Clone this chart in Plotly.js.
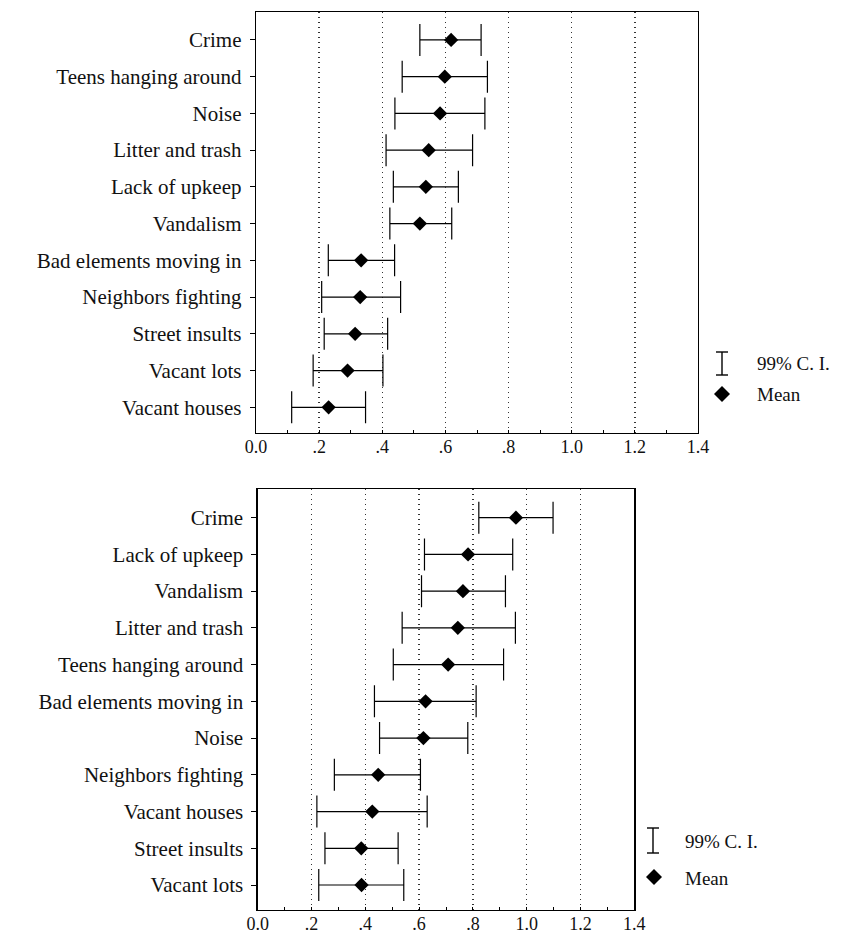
<!DOCTYPE html>
<html><head><meta charset="utf-8">
<script src="https://cdn.plot.ly/plotly-3.0.1.min.js"></script>
<style>html,body{margin:0;padding:0;background:#fff}</style>
</head><body><div id="chart" style="width:845px;height:937px"></div>
<script>
const topCategories = ["Crime","Teens hanging around","Noise","Litter and trash","Lack of upkeep","Vandalism","Bad elements moving in","Neighbors fighting","Street insults","Vacant lots","Vacant houses"];
const topMean = [0.618,0.598,0.583,0.547,0.538,0.519,0.333,0.330,0.314,0.290,0.230];
const topLow  = [0.519,0.463,0.440,0.412,0.435,0.424,0.229,0.208,0.216,0.181,0.113];
const topHigh = [0.713,0.733,0.725,0.686,0.641,0.620,0.439,0.458,0.417,0.402,0.347];

const bottomCategories = ["Crime","Lack of upkeep","Vandalism","Litter and trash","Teens hanging around","Bad elements moving in","Noise","Neighbors fighting","Vacant houses","Street insults","Vacant lots"];
const bottomMean = [0.960,0.782,0.763,0.744,0.708,0.624,0.616,0.448,0.426,0.385,0.386];
const bottomLow  = [0.822,0.620,0.609,0.537,0.504,0.434,0.453,0.285,0.220,0.250,0.227];
const bottomHigh = [1.098,0.948,0.921,0.958,0.914,0.812,0.781,0.605,0.630,0.522,0.543];

const tickValues = [0,0.2,0.4,0.6,0.8,1.0,1.2,1.4];
const tickLabels = ["0.0",".2",".4",".6",".8","1.0","1.2","1.4"];
const legendLabels = ["99% C. I.","Mean"];

const W = 845, H = 937;
const FONT = "Liberation Serif, Times New Roman, serif";
const px = x => x / W;
const py = y => (H - y) / H;

function ciTrace(cats, mean, low, high, xa, ya) {
  return {
    type: 'scatter', mode: 'markers', x: mean, y: cats, xaxis: xa, yaxis: ya,
    marker: {symbol: 'diamond', size: 11, color: '#000'},
    error_x: {type: 'data', symmetric: false,
      array: high.map((h, i) => h - mean[i]),
      arrayminus: mean.map((m, i) => m - low[i]),
      color: '#000', thickness: 1.2, width: 16},
    showlegend: false, hoverinfo: 'skip'
  };
}

function xAxis(domain, anchor) {
  return {
    domain: domain, anchor: anchor, range: [0, 1.4],
    tickmode: 'array', tickvals: tickValues, ticktext: tickLabels,
    showline: true, mirror: true, linecolor: '#000', linewidth: 1.3,
    showgrid: true, griddash: '1px,4px', gridcolor: '#333', gridwidth: 1.3,
    zeroline: false, ticks: 'inside', ticklen: 3, tickcolor: '#000',
    ticklabelstandoff: -3,
    minor: {tickmode: 'linear', tick0: 0, dtick: 0.1, ticks: 'inside', ticklen: 3, tickcolor: '#000', showgrid: false},
    tickfont: {family: FONT, size: 18, color: '#111'}
  };
}
function yAxis(domain, anchor, cats, range) {
  return {
    domain: domain, anchor: anchor, type: 'category',
    categoryorder: 'array', categoryarray: cats, range: range,
    showline: true, mirror: true, linecolor: '#000', linewidth: 1.3,
    showgrid: false, zeroline: false, ticks: 'outside', ticklen: 5, tickcolor: '#000',
    ticklabelstandoff: 4,
    tickfont: {family: FONT, size: 21, color: '#111'}
  };
}

function legendShapes(bx, yTop, yBot, dx, dy, ds) {
  return [
    {type: 'line', xref: 'paper', yref: 'paper', x0: px(bx), x1: px(bx), y0: py(yTop), y1: py(yBot), line: {color: '#000', width: 1.4}},
    {type: 'line', xref: 'paper', yref: 'paper', x0: px(bx - 6), x1: px(bx + 6), y0: py(yTop), y1: py(yTop), line: {color: '#000', width: 1.4}},
    {type: 'line', xref: 'paper', yref: 'paper', x0: px(bx - 6), x1: px(bx + 6), y0: py(yBot), y1: py(yBot), line: {color: '#000', width: 1.4}},
    {type: 'path', xref: 'paper', yref: 'paper',
      path: `M ${px(dx - ds)},${py(dy)} L ${px(dx)},${py(dy - ds)} L ${px(dx + ds)},${py(dy)} L ${px(dx)},${py(dy + ds)} Z`,
      fillcolor: '#000', line: {color: '#000', width: 0}}
  ];
}
function legendText(tx, y1, y2) {
  return [
    {xref: 'paper', yref: 'paper', x: px(tx), y: py(y1), xanchor: 'left', yanchor: 'middle', showarrow: false, text: legendLabels[0], font: {family: FONT, size: 19, color: '#111'}},
    {xref: 'paper', yref: 'paper', x: px(tx), y: py(y2), xanchor: 'left', yanchor: 'middle', showarrow: false, text: legendLabels[1], font: {family: FONT, size: 19, color: '#111'}}
  ];
}

const data = [
  ciTrace(topCategories, topMean, topLow, topHigh, 'x', 'y'),
  ciTrace(bottomCategories, bottomMean, bottomLow, bottomHigh, 'x2', 'y2')
];

const layout = {
  width: W, height: H, margin: {l: 0, r: 0, t: 0, b: 0},
  paper_bgcolor: '#fff', plot_bgcolor: '#fff', showlegend: false,
  xaxis: xAxis([px(256), px(698)], 'y'),
  yaxis: yAxis([py(433), py(12)], 'x', topCategories, [10.7, -0.76]),
  xaxis2: xAxis([px(257.7), px(634.3)], 'y2'),
  yaxis2: yAxis([py(910), py(489)], 'x2', bottomCategories, [10.68, -0.78]),
  shapes: [].concat(legendShapes(722, 352, 375, 722, 394, 8), legendShapes(653, 828, 853, 654, 877, 8)),
  annotations: [].concat(legendText(755, 364, 395), legendText(683, 841, 878))
};

Plotly.newPlot('chart', data, layout, {displayModeBar: false, staticPlot: true});
</script>
</body></html>
